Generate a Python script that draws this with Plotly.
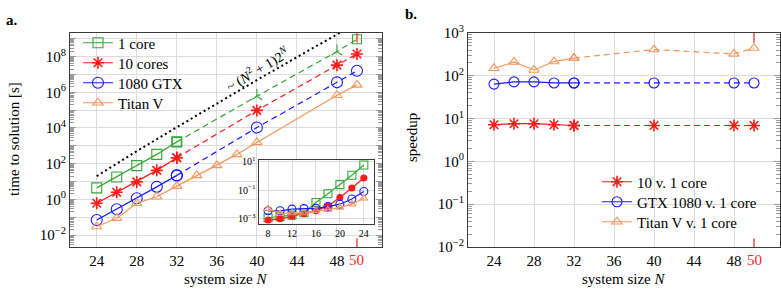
import plotly.graph_objects as go

W, H = 781, 299

# ---------------- data ----------------
N_fit = [24, 26, 28, 30, 32]
N_ext = [32, 40, 48, 50]
N_titan = [24, 26, 28, 30, 32, 34, 36, 38, 40, 48, 50]

t_1core = [4.4, 18, 77, 330, 1660]
t_1core_ext = [1660, 6.0e5, 1.9e8, 9.3e8]
t_10cores = [0.6, 2.5, 9.5, 42, 215]
t_10cores_ext = [215, 9.6e4, 3.3e7, 1.4e8]
t_gtx = [0.07, 0.28, 1.15, 5.0, 22]
t_gtx_ext = [22, 1.05e4, 3.6e6, 1.6e7]
t_titan = [0.03, 0.087, 0.6, 1.4, 5.5, 22, 80, 330, 1550, 6.8e5, 2.6e6]

N_ref = [24, 28, 32, 36, 40, 44, 48, 49]
t_ref = [20, 500, 1.1e4, 2.4e5, 4.8e6, 9.3e7, 1.8e9, 3.6e9]

N_inset = [8, 10, 12, 14, 16, 18, 20, 22, 24]
in_1core = [1.1e-3, 1.3e-3, 1.7e-3, 2.5e-3, 0.013, 0.054, 0.24, 1.1, 5.8]
in_10cores = [7.6e-4, 9.3e-4, 1.4e-3, 2.1e-3, 3.4e-3, 7.6e-3, 0.03, 0.14, 0.71]
in_gtx = [3.4e-3, 3.4e-3, 4.5e-3, 4.9e-3, 5.1e-3, 6.8e-3, 0.01, 0.023, 0.078]
in_titan = [4.9e-3, 2.2e-3, 2.4e-3, 2.4e-3, 3.4e-3, 4.0e-3, 5.8e-3, 0.01, 0.026]

sp_10 = [7.2, 7.6, 7.6, 7.2, 6.9]
sp_10_ext = [6.9, 6.9, 6.9, 6.9]
sp_gtx = [64, 72, 72, 68, 68]
sp_gtx_ext = [68, 68, 68, 68]
sp_titan = [150, 210, 137, 215, 260]
sp_titan_ext = [260, 410, 325, 445]

x_ticks = [24, 28, 32, 36, 40, 44, 48]
inset_x_ticks = [8, 12, 16, 20, 24]

# ---------------- styling ----------------
FONT = "Liberation Serif, Times New Roman, serif"
GREEN = "#35a835"
RED = "#ff1a1a"
BLUE = "#1a1aff"
ORANGE = "#f7965a"
AXC = "#3a3a3a"
GRID = "#dcdcdc"
DASH = "6px,4px"


def px_x(p):
    return p / W


def px_y(p):
    return 1 - p / H


def sup(e):
    s = str(e).replace("-", "\u2212")
    return f"10<sup>{s}</sup>"


def minor_vals(lo, hi):
    return [m * 10.0 ** d for d in range(lo, hi + 1) for m in range(2, 10)]


fig = go.Figure()


def line(x, y, color, symbol, xa, ya, dash="solid", name=None, legend="legend",
         size=9, width=1.2, mlw=1.1, showlegend=False):
    fig.add_trace(go.Scatter(
        x=x, y=y, mode="lines+markers", name=name,
        line=dict(color=color, width=width, dash=dash),
        marker=dict(symbol=symbol, size=size, color=color,
                    line=dict(color=color, width=mlw)),
        xaxis=xa, yaxis=ya, showlegend=showlegend, legend=legend,
    ))


# ----- panel a -----
fig.add_trace(go.Scatter(x=N_ref, y=t_ref, mode="lines",
                         line=dict(color="black", width=2, dash="2px,3px"),
                         xaxis="x", yaxis="y", showlegend=False))

line(N_fit, t_1core, GREEN, "square-open", "x", "y", name="1 core",
     legend="legend", showlegend=True, size=10)
line(N_ext, t_1core_ext, GREEN, ["square-open", "y-up-open", "y-up-open", "square-open"],
     "x", "y", dash=DASH, size=9)
line(N_fit, t_10cores, RED, "asterisk-open", "x", "y", name="10 cores",
     legend="legend3", showlegend=True, size=10, mlw=1.6)
line(N_ext, t_10cores_ext, RED, "asterisk-open", "x", "y", dash=DASH, size=10, mlw=1.6)
line(N_fit, t_gtx, BLUE, "circle-open", "x", "y", name="1080 GTX",
     legend="legend4", showlegend=True, size=11)
line(N_ext, t_gtx_ext, BLUE, "circle-open", "x", "y", dash=DASH, size=11)
line(N_titan, t_titan, ORANGE, "triangle-up-open", "x", "y", name="Titan V",
     legend="legend5", showlegend=True, size=9)

# inset
line(N_inset, in_1core, GREEN, "square-open", "x3", "y3", size=8)
line(N_inset, in_10cores, RED, "circle", "x3", "y3", size=6)
line(N_inset, in_gtx, BLUE, "circle-open", "x3", "y3", size=8)
line(N_inset, in_titan, ORANGE, "triangle-up-open", "x3", "y3", size=7)

# ----- panel b -----
line(N_fit, sp_10, RED, "asterisk-open", "x2", "y2", name="10 v. 1 core",
     legend="legend2", showlegend=True, size=10, mlw=1.6)
line(N_ext, sp_10_ext, RED, "asterisk-open", "x2", "y2", dash=DASH, size=10, mlw=1.6)
line(N_fit, sp_gtx, BLUE, "circle-open", "x2", "y2", name="GTX 1080 v. 1 core",
     legend="legend6", showlegend=True, size=10)
line(N_ext, sp_gtx_ext, BLUE, "circle-open", "x2", "y2", dash=DASH, size=10)
line(N_fit, sp_titan, ORANGE, "triangle-up-open", "x2", "y2", name="Titan V v. 1 core",
     legend="legend7", showlegend=True, size=9)
line(N_ext, sp_titan_ext, ORANGE, "triangle-up-open", "x2", "y2", dash=DASH, size=9)

# ---------------- axes ----------------
xcommon = dict(showline=True, linecolor=AXC, linewidth=1, mirror=True,
               showgrid=True, gridcolor=GRID, gridwidth=1, zeroline=False,
               ticks="", tickfont=dict(family=FONT, size=15, color="black"),
               tickmode="array", tickvals=x_ticks, automargin=False)

left_y_vals = [10.0 ** e for e in range(-2, 10)]
left_y_text = [sup(e) if e % 2 == 0 else " " for e in range(-2, 10)]
right_y_vals = [10.0 ** e for e in range(-2, 4)]
right_y_text = [sup(e) for e in range(-2, 4)]

ycommon = dict(type="log", showline=True, linecolor=AXC, linewidth=1, mirror="allticks",
               showgrid=True, gridcolor=GRID, gridwidth=1, zeroline=False,
               ticks="inside", ticklen=6, tickcolor="#9a9a9a",
               tickfont=dict(family=FONT, size=15, color="black"),
               tickmode="array", automargin=False)


def leg(xp, yp):
    return dict(x=px_x(xp), y=px_y(yp), xanchor="left", yanchor="middle",
                bgcolor="rgba(0,0,0,0)", font=dict(family=FONT, size=15),
                itemwidth=30, tracegroupgap=0)


fig.update_layout(
    xaxis=dict(domain=[px_x(70), px_x(382)], range=[21.33, 52.5], anchor="y", **xcommon),
    yaxis=dict(domain=[px_y(247), px_y(33)], range=[-2.67, 9.32], anchor="x",
               tickvals=left_y_vals, ticktext=left_y_text,
               minor=dict(ticks="inside", ticklen=4, tickcolor="#9a9a9a",
                          tickmode="array", tickvals=minor_vals(-3, 9), showgrid=False),
               **ycommon),
    xaxis2=dict(domain=[px_x(468), px_x(780)], range=[21.4, 52.6], anchor="y2", **xcommon),
    yaxis2=dict(domain=[px_y(247), px_y(33)], range=[-2, 3], anchor="x2",
                tickvals=right_y_vals, ticktext=right_y_text,
                minor=dict(ticks="inside", ticklen=4, tickcolor="#9a9a9a",
                           tickmode="array", tickvals=minor_vals(-2, 2), showgrid=False),
                **ycommon),
    xaxis3=dict(domain=[px_x(258.5), px_x(374)], range=[6.4, 25.7], anchor="y3",
                showline=True, linecolor=AXC, linewidth=1, mirror=True,
                showgrid=True, gridcolor=GRID, zeroline=False, ticks="",
                tickmode="array", tickvals=inset_x_ticks, automargin=False,
                tickfont=dict(family=FONT, size=10, color="black")),
    yaxis3=dict(domain=[px_y(224.3), px_y(160)], range=[-3.42, 1.12], anchor="x3",
                type="log", showline=True, linecolor=AXC, linewidth=1, mirror=True,
                showgrid=True, gridcolor=GRID, zeroline=False, ticks="",
                tickmode="array", tickvals=[1e-3, 1e-1, 1e1], automargin=False,
                ticktext=[sup(-3), sup(-1), sup(1)],
                tickfont=dict(family=FONT, size=10, color="black")),
    width=W, height=H,
    margin=dict(l=0, r=0, t=0, b=0, pad=0, autoexpand=False),
    paper_bgcolor="white", plot_bgcolor="white",
    font=dict(family=FONT, size=15, color="black"),
    legend=leg(78, 43),
    legend3=leg(78, 63),
    legend4=leg(78, 83),
    legend5=leg(78, 103),
    legend2=leg(597, 182),
    legend6=leg(597, 202),
    legend7=leg(597, 222),
)

# red markers at N = 50
shapes = []
for xr, yr in (("x", "y domain"), ("x2", "y2 domain")):
    shapes.append(dict(type="line", xref=xr, yref=yr, x0=50, x1=50, y0=0, y1=0.04,
                       line=dict(color=RED, width=1.2)))
    shapes.append(dict(type="line", xref=xr, yref=yr, x0=50, x1=50, y0=0.955, y1=1,
                       line=dict(color=RED, width=1.2)))
fig.update_layout(shapes=shapes)


def note(x, y, text, size=15, color="black", angle=0, xanchor="center", xref="paper"):
    return dict(x=x, y=y, xref=xref, yref="paper", text=text, showarrow=False,
                textangle=angle, xanchor=xanchor, yanchor="middle",
                font=dict(family=FONT, size=size, color=color))


ann = []
# red "50" tick labels
for xr in ("x", "x2"):
    ann.append(note(50, px_y(259.5), "50", color=RED, xref=xr))
# axis titles
ann.append(note(px_x(226), px_y(279), "system size <i>N</i>"))
ann.append(note(px_x(624), px_y(279), "system size <i>N</i>"))
ann.append(note(px_x(14), px_y(139), "time to solution [s]", angle=-90))
ann.append(note(px_x(412), px_y(138), "speedup", angle=-90))
# panel labels
ann.append(note(px_x(4), px_y(20), "<b>a.</b>", xanchor="left"))
ann.append(note(px_x(403), px_y(14), "<b>b.</b>", xanchor="left"))
# scaling annotation
ann.append(note(px_x(257), px_y(69), "~ (<i>N</i><sup>2</sup> + 1)2<sup><i>N</i></sup>",
                size=14, angle=-31))
fig.update_layout(annotations=ann)

fig.write_html("out.html", config={"displayModeBar": False},
               post_script="document.body.style.margin='0px';document.body.style.padding='0px';")
